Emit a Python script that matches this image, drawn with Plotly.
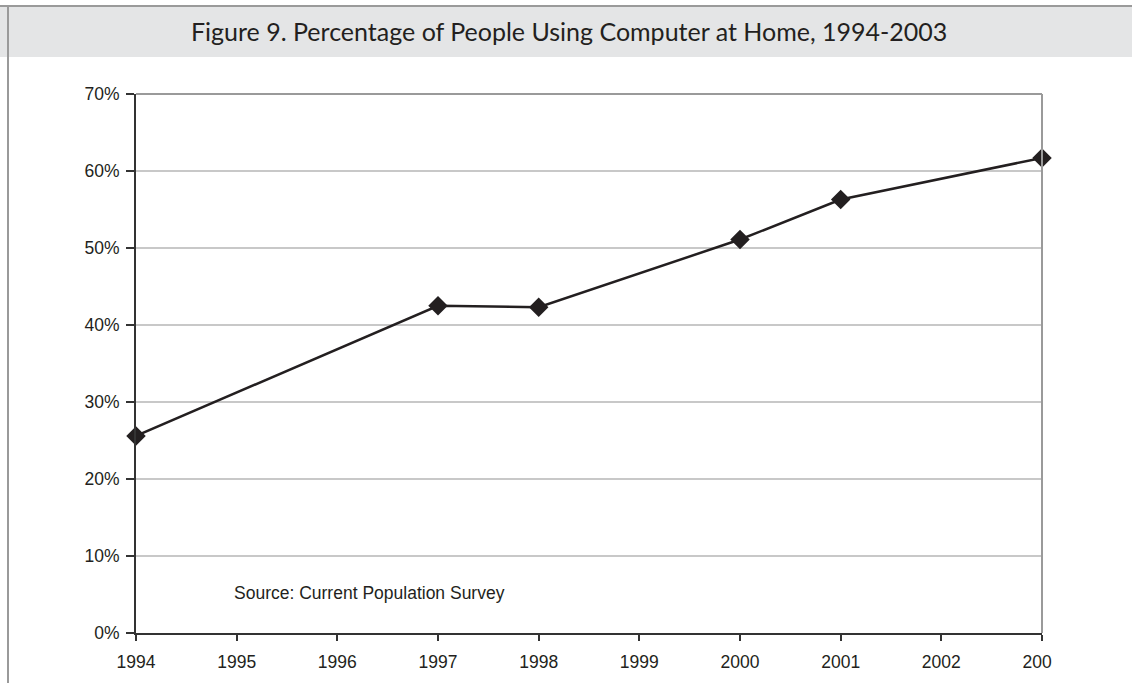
import plotly.graph_objects as go

# Share of people using a computer at home, by survey year
years = [1994, 1997, 1998, 2000, 2001, 2003]
share = [0.256, 0.425, 0.423, 0.511, 0.563, 0.617]

x_ticks = list(range(1994, 2004))
y_ticks = [0, 0.1, 0.2, 0.3, 0.4, 0.5, 0.6, 0.7]

W, H = 1132, 683
L, R, T, B = 136, 1042, 94, 633   # plot area edges in pixels
INK = "#231f20"
FRAME = "#9a9a9a"


def px(xp):
    return (xp - L) / (R - L)


def py(yp):
    return (B - yp) / (B - T)


fig = go.Figure()
fig.add_trace(go.Scatter(
    x=years, y=share, mode="lines+markers",
    line=dict(color=INK, width=2.5),
    marker=dict(symbol="diamond", size=15, color=INK),
    cliponaxis=False, showlegend=False,
))

shapes = [
    # title banner
    dict(type="rect", xref="paper", yref="paper", x0=px(0), x1=px(W), y0=py(57), y1=py(7),
         fillcolor="#e4e5e6", line=dict(width=0), layer="below"),
    dict(type="line", xref="paper", yref="paper", x0=px(0), x1=px(W), y0=py(6), y1=py(6),
         line=dict(color=FRAME, width=2)),
    dict(type="line", xref="paper", yref="paper", x0=px(8), x1=px(8), y0=py(5), y1=py(H),
         line=dict(color=FRAME, width=2)),
    # top and right edges of the plot frame
    dict(type="line", xref="paper", yref="paper", x0=0, x1=1, y0=1, y1=1,
         line=dict(color=FRAME, width=2)),
    dict(type="line", xref="paper", yref="paper", x0=1, x1=1, y0=0, y1=1,
         line=dict(color=FRAME, width=2)),
    # page edge trimming the last year label
    dict(type="rect", xref="paper", yref="paper", x0=px(1052), x1=px(W + 5), y0=py(H + 5), y1=py(642),
         fillcolor="white", line=dict(width=0), layer="above"),
]

fig.update_layout(
    width=W, height=H,
    margin=dict(l=L, r=W - R, t=T, b=H - B, pad=0),
    paper_bgcolor="white", plot_bgcolor="white",
    shapes=shapes,
    font=dict(family="Liberation Sans, Arial, sans-serif", size=17, color=INK),
    annotations=[
        dict(text="Figure 9. Percentage of People Using Computer at Home, 1994-2003",
             xref="paper", yref="paper", x=px(569), y=py(31), xanchor="center", yanchor="middle",
             showarrow=False,
             font=dict(family="Lato, sans-serif", size=25, color=INK)),
        dict(text="Source: Current Population Survey",
             xref="paper", yref="paper", x=px(232), y=py(593), xanchor="left", yanchor="middle",
             showarrow=False, font=dict(size=17.5, color=INK)),
    ],
    xaxis=dict(
        range=[1994, 2003], tickvals=x_ticks, ticktext=[str(v) for v in x_ticks],
        showgrid=False, zeroline=False,
        showline=True, linecolor="#333333", linewidth=2,
        ticks="outside", ticklen=6, tickwidth=1.5, tickcolor="#333333",
        ticklabelstandoff=6,
        tickfont=dict(size=17.5, color=INK),
    ),
    yaxis=dict(
        range=[0, 0.7], tickvals=y_ticks, tickformat=".0%",
        showgrid=True, gridcolor="#c8c8c8", gridwidth=1.5, zeroline=False,
        showline=True, linecolor="#333333", linewidth=2,
        ticks="outside", ticklen=8, tickwidth=1.5, tickcolor="#333333",
        ticklabelstandoff=3,
        tickfont=dict(size=17.5, color=INK),
    ),
)

fig.write_html("out.html")
